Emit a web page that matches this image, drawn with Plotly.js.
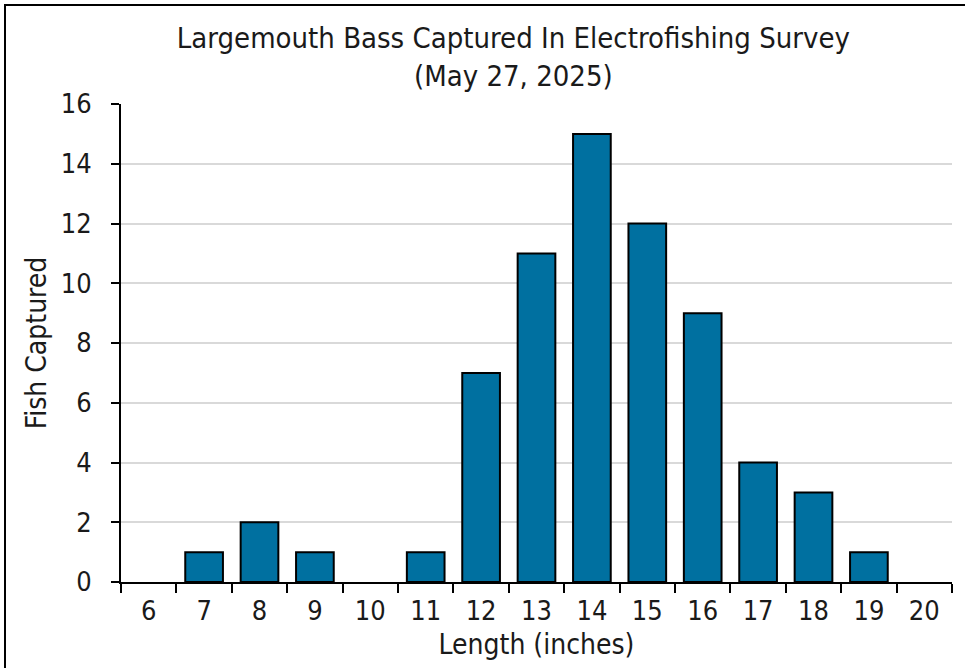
<!DOCTYPE html>
<html><head><meta charset="utf-8">
<script src="https://cdn.plot.ly/plotly-3.0.1.min.js"></script>
<style>html,body{margin:0;padding:0;background:#fff;overflow:hidden}
#frame{position:absolute;left:4px;top:4px;width:970px;height:670px;border:2px solid #000;box-sizing:border-box;pointer-events:none;z-index:10}
#chart{width:965px;height:668px}</style>
</head><body>
<div id="chart"></div><div id="frame"></div>
<script>
const lengths = ['6','7','8','9','10','11','12','13','14','15','16','17','18','19','20'];
const fishCaptured = [0,1,2,1,0,1,7,11,15,12,9,4,3,1,0];
const yTicks = [0,2,4,6,8,10,12,14,16];
const FONT = '"DejaVu Sans Condensed", "DejaVu Sans", sans-serif';
Plotly.newPlot('chart', [{
  type: 'bar', x: lengths, y: fishCaptured,
  marker: {color: '#0070A0', line: {color: '#000', width: fishCaptured.map(v => v > 0 ? 2 : 0)}},
  hoverinfo: 'none'
}], {
  width: 965, height: 668,
  margin: {l: 121, r: 13, t: 104, b: 86},
  paper_bgcolor: '#fff', plot_bgcolor: '#fff',
  font: {family: FONT, color: '#1a1a1a'},
  title: {text: 'Largemouth Bass Captured In Electrofishing Survey<br>(May 27, 2025)',
    font: {family: FONT, size: 29, color: '#1a1a1a'},
    x: 0.532, xanchor: 'center', yref: 'container', y: 1 - 48/668, yanchor: 'middle'},
  bargap: 0.32,
  xaxis: {type: 'category', categoryorder: 'array', categoryarray: lengths,
    tickson: 'boundaries', ticks: 'outside', ticklen: 9, tickwidth: 2, tickcolor: '#000',
    ticklabelstandoff: 4,
    showline: true, linecolor: '#000', linewidth: 2, showgrid: false,
    tickfont: {size: 27}, title: {text: 'Length (inches)', font: {size: 28}, standoff: 9}},
  yaxis: {range: [0, 16], tickvals: yTicks, ticks: 'outside', ticklen: 8, tickwidth: 2, tickcolor: '#000',
    ticklabelstandoff: 14,
    showline: true, linecolor: '#000', linewidth: 2, gridcolor: '#d9d9d9', gridwidth: 2,
    zeroline: false, tickfont: {size: 27},
    title: {text: 'Fish Captured', font: {size: 28}, standoff: 6}},
  showlegend: false
}, {staticPlot: true});
</script></body></html>
